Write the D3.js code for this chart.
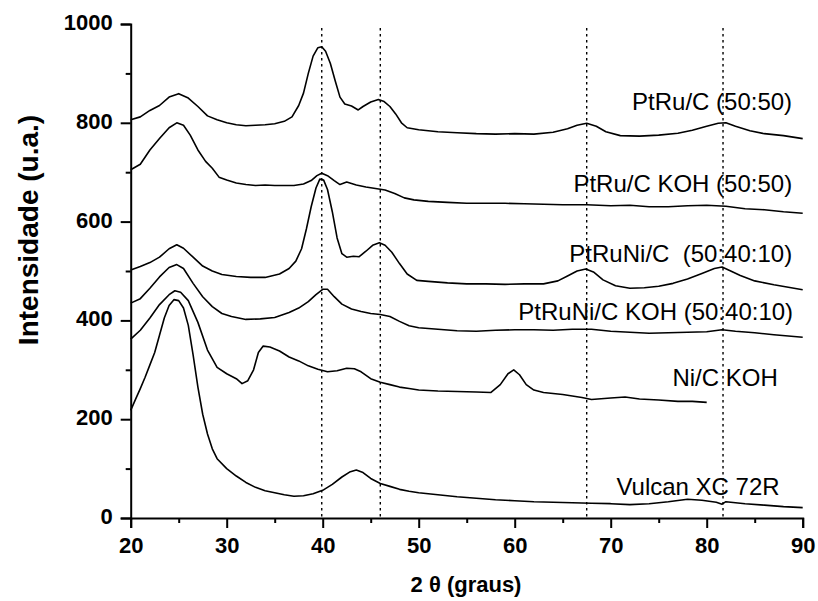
<!DOCTYPE html>
<html>
<head>
<meta charset="utf-8">
<script src="https://cdn.jsdelivr.net/npm/d3@7"></script>
<style>
  body { margin: 0; background: #fff; }
  text { font-family: "Liberation Sans", Arial, sans-serif; }
</style>
</head>
<body>
<div id="chart"></div>
<script>
// XRD patterns, [2theta, intensity]
var ptru = [[20,806],[21,812],[22,825],[23,835],[24,852],[25,859],[26,850],[27,833],[28,814],[29,806],[30,800],[31,796],[32,794],[33,795],[34,796],[35,798],[36,803],[36.8,812],[37.5,835],[38,860],[38.5,900],[39,935],[39.5,952],[39.9,954],[40.3,945],[40.8,920],[41.3,885],[41.8,852],[42.3,838],[43,834],[43.7,826],[44.2,833],[45,842],[45.8,847],[46.4,843],[47,833],[47.6,818],[48.2,800],[48.8,790],[50,786],[52,782],[54,780],[56,778],[58,777],[60,778],[62,777],[64,781],[65.5,788],[66.5,795],[67.5,799],[68.5,793],[69.5,782],[71,774],[73,773],[75,775],[77,779],[78.5,785],[80,793],[81.2,799],[82,800],[83,793],[84.5,784],[86,778],[88,774],[90,768]];

var ptruKoh = [[20,705],[21,716],[22,745],[23,768],[24,790],[24.8,800],[25.5,795],[26.2,775],[27,745],[27.8,722],[28.5,708],[29.2,690],[30,684],[31,678],[32,675],[33,673],[34,674],[35,673],[36,673],[37,673],[38,676],[38.8,683],[39.4,693],[39.9,698],[40.5,693],[41.2,683],[41.8,675],[42.5,680],[43.5,674],[44.5,670],[45.5,667],[46.5,664],[47.5,657],[48.5,648],[49.5,644],[51,641],[53,639],[55,637],[57,637],[59,637],[61,636],[63,635],[65,634],[67.5,634],[70,632],[72,633],[74,630],[76,630],[78,632],[80,633],[82,631],[84,626],[86,624],[88,620],[90,617]];

var ptruni = [[20,502],[21,509],[22,517],[23,528],[24,545],[24.8,553],[25.5,546],[26.5,528],[27.5,510],[28.5,500],[29.5,493],[31,489],[32.5,487],[34,487],[35.5,494],[36.5,505],[37.2,520],[37.8,545],[38.3,585],[38.8,630],[39.3,668],[39.7,686],[40.1,684],[40.5,665],[41,620],[41.5,567],[42,535],[42.5,528],[43.2,530],[43.8,529],[44.5,540],[45.2,552],[45.9,557],[46.5,552],[47.2,538],[48,515],[48.8,494],[49.8,481],[51,479],[53,476],[55,474],[57,474],[59,473],[61,474],[63,474],[64.5,480],[65.5,490],[66.5,500],[67.4,504],[68.2,498],[69.2,482],[70.5,470],[72,465],[73.5,466],[75,469],[76.5,475],[78,484],[79.5,495],[80.8,505],[81.6,508],[82.5,500],[83.5,491],[85,480],[87,472],[88.5,467],[90,462]];

var ptruniKoh = [[20,435],[21,444],[22,465],[23,488],[24,507],[24.8,513],[25.5,505],[26.5,475],[27.5,448],[28.5,428],[29.5,414],[30.5,408],[32,402],[33.5,403],[35,406],[36.5,416],[37.5,425],[38.5,438],[39.3,452],[40,463],[40.5,463],[41.2,448],[42,433],[43,423],[44,418],[45,414],[46,412],[47,408],[48,398],[49,389],[50,385],[52,382],[54,379],[56,378],[58,380],[60,381],[62,381],[64,380],[66,382],[68,382],[70,378],[72,376],[74,374],[76,375],[78,376],[80,377],[81.6,381],[83,378],[85,375],[87,371],[90,366]];

var niKoh = [[20,362],[21,380],[22,405],[23,432],[24,452],[24.6,460],[25.2,457],[26,440],[27,396],[28,340],[29,305],[30,292],[31,282],[31.6,272],[32.2,278],[32.8,300],[33.3,335],[33.8,348],[34.5,346],[35.5,338],[36.5,326],[37.5,318],[38.5,308],[39.5,301],[40.5,296],[41.5,298],[42.5,303],[43.3,302],[44,296],[45,282],[46,275],[47,270],[48,265],[49,262],[50,259],[52,257],[54,256],[56,255],[57.5,254],[58.5,270],[59.3,292],[59.9,300],[60.5,290],[61.2,270],[62,259],[63,254],[65,250],[67,244],[68,240],[70,243],[71.5,245],[73,241],[75,239],[77,236],[78.5,236],[80,234]];

var vulcan = [[20,218],[20.5,240],[21,262],[21.5,285],[22,310],[22.5,335],[23,370],[23.5,405],[24,430],[24.5,442],[25,440],[25.5,425],[26,390],[26.5,330],[27,265],[27.5,210],[28,170],[28.5,140],[29,120],[30,100],[31,85],[32,72],[33,62],[34,55],[35,51],[36,47],[37,44],[38,45],[39,49],[40,56],[41,68],[42,83],[42.8,93],[43.5,97],[44.2,92],[45,80],[46,70],[47,64],[48,58],[49,54],[50,51],[52,47],[54,43],[56,40],[58,37],[60,35],[62,33],[64,32],[66,31],[68,30],[70,29],[72,27],[74,29],[76,33],[78,38],[79.5,36],[81,32],[81.6,28],[82,33],[84,29],[86,26],[88,23],[90,21]];

var series = [ptru, ptruKoh, ptruni, ptruniKoh, niKoh, vulcan];
var seriesNames = ["PtRu/C (50:50)", "PtRu/C KOH (50:50)", "PtRuNi/C  (50:40:10)", "PtRuNi/C KOH (50:40:10)", "Ni/C KOH", "Vulcan XC 72R"];
// label anchor (right end) in data units
var labelX = [88.9, 88.9, 88.9, 89.0, 87.4, 87.6];
var labelY = [826, 660, 518, 401, 267, 47];

var refLines = [39.9, 46.0, 67.5, 81.7];
var xTicks = [20, 30, 40, 50, 60, 70, 80, 90];
var xMinor = [25, 35, 45, 55, 65, 75, 85];
var yTicks = [0, 200, 400, 600, 800, 1000];
var yMinor = [100, 300, 500, 700, 900];

var width = 818, height = 601;
var svg = d3.select("#chart").append("svg")
    .attr("width", width)
    .attr("height", height)
    .style("background", "#fff");

var x = d3.scaleLinear().domain([20, 90]).range([130.7, 802.7]);
var y = d3.scaleLinear().domain([0, 1000]).range([518, 24]);

// dotted reference lines
svg.selectAll(".ref")
    .data(refLines)
    .enter()
    .append("line")
    .attr("x1", d => x(d))
    .attr("x2", d => x(d))
    .attr("y1", y(1000) + 4)
    .attr("y2", y(0))
    .attr("stroke", "#000")
    .attr("stroke-width", 1.4)
    .attr("stroke-dasharray", "2.5,3.5");

var line = d3.line()
    .x(d => x(d[0]))
    .y(d => y(d[1]));

svg.selectAll(".curve")
    .data(series)
    .enter()
    .append("path")
    .attr("d", line)
    .attr("fill", "none")
    .attr("stroke", "#000")
    .attr("stroke-width", 1.6)
    .attr("stroke-linejoin", "round");

svg.selectAll(".lbl")
    .data(seriesNames)
    .enter()
    .append("text")
    .attr("x", (d, i) => x(labelX[i]))
    .attr("y", (d, i) => y(labelY[i]))
    .attr("text-anchor", "end")
    .attr("font-size", 24)
    .style("white-space", "pre")
    .text(d => d);

// axes
var xAxis = svg.append("g")
    .attr("transform", "translate(0," + y(0) + ")")
    .call(d3.axisBottom(x).tickValues(xTicks).tickSize(10).tickPadding(9).tickFormat(d3.format("d")));
svg.append("g")
    .attr("transform", "translate(0," + y(0) + ")")
    .call(d3.axisBottom(x).tickValues(xMinor).tickSize(5).tickFormat(""))
    .select(".domain").remove();

var yAxis = svg.append("g")
    .attr("transform", "translate(" + x(20) + ",0)")
    .call(d3.axisLeft(y).tickValues(yTicks).tickSize(10).tickPadding(8).tickFormat(d3.format("d")));
svg.append("g")
    .attr("transform", "translate(" + x(20) + ",0)")
    .call(d3.axisLeft(y).tickValues(yMinor).tickSize(5).tickFormat(""))
    .select(".domain").remove();

svg.selectAll(".domain")
    .attr("stroke", "#000")
    .attr("stroke-width", 2)
    .attr("d", function () { return d3.select(this).attr("d").replace(/V6|V-6|H-6|H6/g, ""); });
svg.selectAll(".tick line")
    .attr("stroke", "#000")
    .attr("stroke-width", 2);
svg.selectAll(".tick text")
    .attr("font-family", "'Liberation Sans', Arial, sans-serif")
    .attr("font-size", 22)
    .attr("font-weight", "bold")
    .attr("fill", "#000");
yAxis.selectAll(".tick text").attr("dy", "0.25em");

// axis titles
svg.append("text")
    .attr("x", 466)
    .attr("y", 592)
    .attr("text-anchor", "middle")
    .attr("font-size", 22)
    .attr("font-weight", "bold")
    .text("2 \u03b8 (graus)");

svg.append("text")
    .attr("transform", "translate(38,230) rotate(-90)")
    .attr("text-anchor", "middle")
    .attr("font-size", 28)
    .attr("font-weight", "bold")
    .text("Intensidade (u.a.)");
</script>
</body>
</html>
